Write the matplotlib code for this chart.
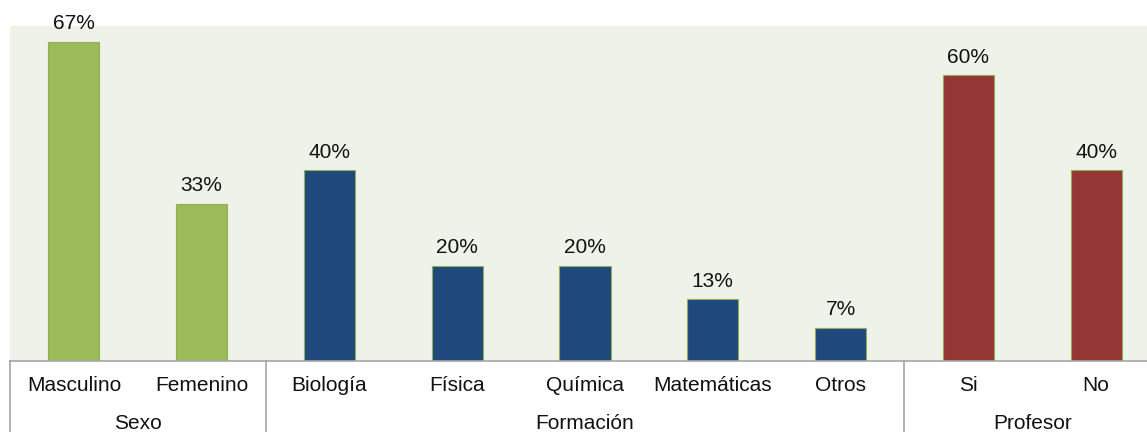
import matplotlib
matplotlib.use("Agg")
import matplotlib.pyplot as plt

categories = ["Masculino", "Femenino", "Biología", "Física", "Química",
              "Matemáticas", "Otros", "Si", "No"]
values = [67, 33, 40, 20, 20, 13, 7, 60, 40]
groups = ["Sexo", "Formación", "Profesor"]
group_sizes = [2, 5, 2]
group_colors = ["#9BBB59", "#1F497D", "#943634"]

plt.rcParams["font.family"] = ["Liberation Sans", "DejaVu Sans"]

W, H = 1147, 432
fig = plt.figure(figsize=(W / 100, H / 100), dpi=100)
fig.patch.set_facecolor("white")
ax = fig.add_axes([10 / W, 71 / H, 1150 / W, 335 / H])
ax.set_facecolor("#EFF2E9")

colors = []
for c, n in zip(group_colors, group_sizes):
    colors += [c] * n

x = list(range(len(categories)))
ax.bar(x, values, width=0.4, color=colors, edgecolor="#8FAE55", linewidth=0.8, zorder=2)

for xi, v in zip(x, values):
    ax.annotate(f"{v}%", (xi, v), xytext=(0, 6), textcoords="offset points",
                ha="center", va="bottom", fontsize=15, color="#111111")

ax.set_xlim(-0.5, len(categories) - 0.5)
ax.set_ylim(0, 70.3)
ax.set_xticks([])
ax.set_yticks([])
for s in ["top", "right", "left"]:
    ax.spines[s].set_visible(False)
ax.spines["bottom"].set_color("#A6A6A6")
ax.spines["bottom"].set_linewidth(1.2)

tr = ax.get_xaxis_transform()
for xi, cat in zip(x, categories):
    ax.text(xi, -0.072, cat, transform=tr, ha="center", va="center",
            fontsize=15, color="#111111")

start = 0
bounds = [-0.5]
for g, n in zip(groups, group_sizes):
    mid = start + (n - 1) / 2
    ax.text(mid, -0.188, g, transform=tr, ha="center", va="center",
            fontsize=15, color="#111111")
    start += n
    bounds.append(start - 0.5)

for b in bounds:
    ax.plot([b, b], [0, -0.25], transform=tr, color="#A6A6A6", lw=1.2,
            clip_on=False)

fig.savefig("out.png", dpi=100)
